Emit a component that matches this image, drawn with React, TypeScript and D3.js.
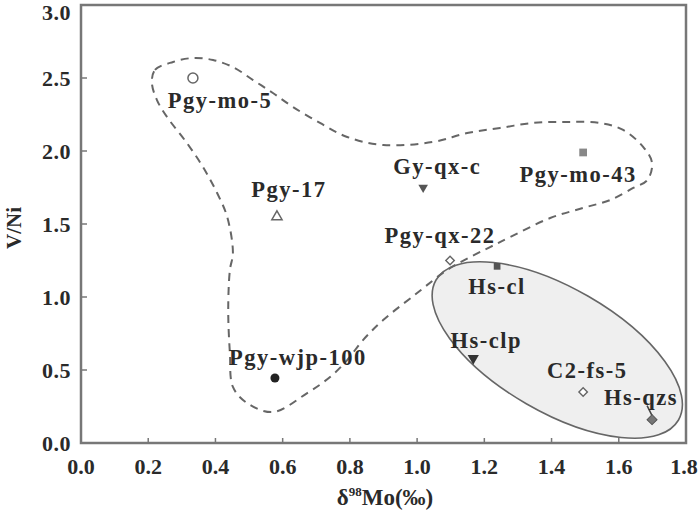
import React from "react";
import * as d3 from "d3";

// ---- data ----
const sampleNames = ["Pgy-mo-5", "Pgy-17", "Gy-qx-c", "Pgy-mo-43", "Pgy-qx-22", "Hs-cl", "Hs-clp", "C2-fs-5", "Hs-qzs", "Pgy-wjp-100"];
const moValues = [0.333, 0.583, 1.018, 1.494, 1.098, 1.238, 1.167, 1.494, 1.699, 0.577];
const vniValues = [2.5, 1.55, 1.75, 1.99, 1.25, 1.21, 0.58, 0.35, 0.16, 0.445];
const markerTypes = ["circleOpen", "triUpOpen", "triDownFilled", "squareGray", "diamondOpen", "squareDark", "triDownDark", "diamondOpen", "diamondGray", "dotFilled"];

const xTicks = [0, 0.2, 0.4, 0.6, 0.8, 1.0, 1.2, 1.4, 1.6, 1.8];
const yTicks = [0, 0.5, 1.0, 1.5, 2.0, 2.5, 3.0];

// dashed boundary (data coordinates, Mo, V/Ni)
const boundaryMo = [0.211, 0.220, 0.274, 0.333, 0.393, 0.452, 0.512, 0.571, 0.631, 0.711, 0.792, 0.899, 1.048, 1.149, 1.247, 1.345, 1.446, 1.545, 1.613, 1.673, 1.699, 1.685, 1.643, 1.574, 1.494, 1.396, 1.277, 1.217, 1.158, 1.089, 1.0, 0.899, 0.839, 0.792, 0.741, 0.673, 0.571, 0.494, 0.452, 0.443, 0.438, 0.443, 0.452, 0.435, 0.405, 0.363, 0.315, 0.256, 0.226];
const boundaryVNi = [2.466, 2.555, 2.610, 2.637, 2.623, 2.575, 2.486, 2.397, 2.301, 2.192, 2.096, 2.041, 2.062, 2.123, 2.158, 2.192, 2.199, 2.192, 2.144, 2.027, 1.918, 1.801, 1.747, 1.664, 1.610, 1.541, 1.411, 1.342, 1.274, 1.185, 1.027, 0.842, 0.705, 0.568, 0.452, 0.342, 0.212, 0.274, 0.384, 0.616, 0.911, 1.185, 1.301, 1.548, 1.712, 1.890, 2.055, 2.233, 2.349];

// ellipse region centre (data)
const ellipseCenter = [1.417, 0.637];

// ---- layout ----
const W = 700, H = 516;
const left = 81, right = 686, top = 5, bottom = 443;
const labelOffsets: Record<string, [number, number]> = {
  "Pgy-mo-5": [27, 30],
  "Pgy-17": [12, -20],
  "Gy-qx-c": [14, -14],
  "Pgy-mo-43": [-5, 30],
  "Pgy-qx-22": [-10, -18],
  "Hs-cl": [0, 28],
  "Hs-clp": [13, -10],
  "C2-fs-5": [4, -14],
  "Hs-qzs": [-11, -15],
  "Pgy-wjp-100": [23, -13],
};

const FONT = "'Liberation Serif', 'Times New Roman', serif";

function Marker({ type, x, y }: { type: string; x: number; y: number }) {
  const sym = (t: d3.SymbolType, size: number) => d3.symbol().type(t).size(size)() as string;
  switch (type) {
    case "circleOpen":
      return <circle cx={x} cy={y} r={5} fill="white" stroke="#666" strokeWidth={1.5} />;
    case "triUpOpen":
      return <path transform={`translate(${x},${y})`} d={sym(d3.symbolTriangle, 45)} fill="white" stroke="#666" strokeWidth={1.5} />;
    case "triDownFilled":
      return <path transform={`translate(${x},${y}) rotate(180)`} d={sym(d3.symbolTriangle, 40)} fill="#555" />;
    case "triDownDark":
      return <path transform={`translate(${x},${y}) rotate(180)`} d={sym(d3.symbolTriangle, 55)} fill="#333" />;
    case "squareGray":
      return <path transform={`translate(${x},${y})`} d={sym(d3.symbolSquare, 60)} fill="#888" />;
    case "squareDark":
      return <path transform={`translate(${x},${y})`} d={sym(d3.symbolSquare, 45)} fill="#555" />;
    case "diamondOpen":
      return <path transform={`translate(${x},${y}) rotate(45)`} d={sym(d3.symbolSquare, 36)} fill="white" stroke="#666" strokeWidth={1.4} />;
    case "diamondGray":
      return <path transform={`translate(${x},${y}) rotate(45)`} d={sym(d3.symbolSquare, 50)} fill="#777" stroke="#555" strokeWidth={1} />;
    case "dotFilled":
      return <circle cx={x} cy={y} r={4.5} fill="#222" />;
    default:
      return null;
  }
}

export default function App() {
  const x = d3.scaleLinear().domain([0, 1.8]).range([left, right]);
  const y = d3.scaleLinear().domain([0, 3]).range([bottom, top]);

  const boundary = d3
    .line<number>()
    .x((_, i) => x(boundaryMo[i]))
    .y((_, i) => y(boundaryVNi[i]))
    .curve(d3.curveCatmullRomClosed.alpha(0.5))(boundaryMo) as string;

  const ecx = x(ellipseCenter[0]);
  const ecy = y(ellipseCenter[1]);

  const axisColor = "#777";
  const textColor = "#2a2a2a";

  return (
    <div style={{ position: "fixed", left: 0, top: 0 }}>
      <svg width={W} height={H} style={{ display: "block", background: "white" }}>
        {/* ellipse region */}
        <ellipse cx={ecx} cy={ecy} rx={140} ry={62} transform={`rotate(30 ${ecx} ${ecy})`} fill="#efefef" stroke="#666" strokeWidth={1.6} />

        {/* dashed boundary */}
        <path d={boundary} fill="none" stroke="#666" strokeWidth={2} strokeDasharray="8 6" />

        {/* frame */}
        <rect x={left} y={top} width={right - left} height={bottom - top} fill="none" stroke={axisColor} strokeWidth={2.5} />

        {/* ticks */}
        {xTicks.map((t) => (
          <g key={"x" + t}>
            <line x1={x(t)} x2={x(t)} y1={bottom} y2={bottom - 5} stroke={axisColor} strokeWidth={1.5} />
            <text x={Math.min(x(t), 684)} y={474} textAnchor="middle" fontFamily={FONT} fontWeight="bold" fontSize={22} fill={textColor}>
              {t.toFixed(1)}
            </text>
          </g>
        ))}
        {yTicks.map((t) => (
          <g key={"y" + t}>
            <line x1={left} x2={left + 6} y1={y(t)} y2={y(t)} stroke={axisColor} strokeWidth={1.5} />
            <text x={71} y={Math.max(y(t) + 8, 20)} textAnchor="end" fontFamily={FONT} fontWeight="bold" fontSize={22} letterSpacing={0.5} fill={textColor}>
              {t.toFixed(1)}
            </text>
          </g>
        ))}

        {/* axis titles */}
        <text transform="translate(21,228) rotate(-90)" textAnchor="middle" fontFamily={FONT} fontWeight="bold" fontSize={21} fill={textColor}>
          V/Ni
        </text>
        <text x={385} y={505} textAnchor="middle" fontFamily={FONT} fontWeight="bold" fontSize={23} fill={textColor}>
          δ<tspan dy={-9} fontSize={13}>98</tspan>
          <tspan dy={9}>Mo(‰)</tspan>
        </text>

        {/* Hs-qzs leader */}
        <line x1={x(moValues[8]) - 5} y1={y(vniValues[8]) - 14} x2={x(moValues[8])} y2={y(vniValues[8]) - 4} stroke="#444" strokeWidth={1.5} />

        {/* points and labels */}
        {sampleNames.map((name, i) => {
          const px = x(moValues[i]);
          const py = y(vniValues[i]);
          const [dx, dy] = labelOffsets[name];
          return (
            <g key={name}>
              <Marker type={markerTypes[i]} x={px} y={py} />
              <text x={px + dx} y={py + dy} textAnchor="middle" fontFamily={FONT} fontWeight="bold" fontSize={22.5} letterSpacing={1.5} fill={textColor}>
                {name}
              </text>
            </g>
          );
        })}
      </svg>
    </div>
  );
}
